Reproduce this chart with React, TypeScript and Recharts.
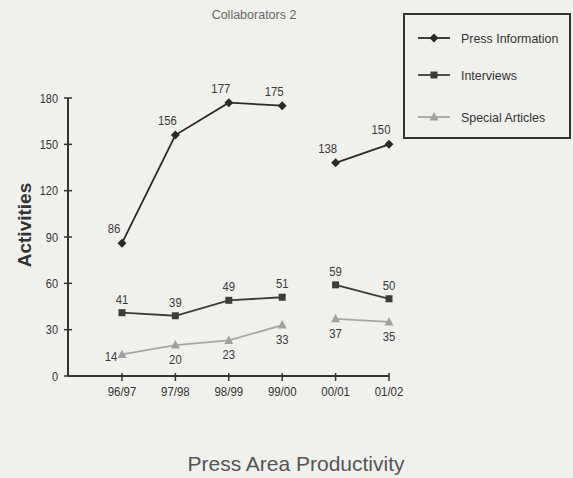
import React from 'react';
import { LineChart, Line, XAxis, YAxis, LabelList } from 'recharts';

const categories = ['96/97', '97/98', '98/99', '99/00', '00/01', '01/02'];
const pressInformation = [86, 156, 177, 175, 138, 150];
const interviews = [41, 39, 49, 51, 59, 50];
const specialArticles = [14, 20, 23, 33, 37, 35];
const yTicks = [0, 30, 60, 90, 120, 150, 180];
// the lines break between 99/00 and 00/01
const firstPeriodEnd = 3;

const FONT = "'Liberation Sans', Arial, sans-serif";
const BG = '#f0f0ed';

const SERIES = [
  { key: 'press', name: 'Press Information', values: pressInformation, color: '#2a2a2a', fill: '#2a2a2a', shape: 'diamond' },
  { key: 'interviews', name: 'Interviews', values: interviews, color: '#3c3c3c', fill: '#3c3c3c', shape: 'square' },
  { key: 'special', name: 'Special Articles', values: specialArticles, color: '#a6a6a6', fill: '#a0a0a0', shape: 'triangle' },
];

const data = categories.map((cat, i) => {
  const row: Record<string, string | number | null> = { cat };
  SERIES.forEach((s) => {
    row[s.key + 'A'] = i <= firstPeriodEnd ? s.values[i] : null;
    row[s.key + 'B'] = i > firstPeriodEnd ? s.values[i] : null;
  });
  return row;
});

// condensed look (the original uses a narrow face)
function NarrowText({ x, y, anchor = 'middle', size = 12.5, fill = '#333', sx = 0.84, children }: any) {
  return (
    <text
      transform={`translate(${x},${y}) scale(${sx},1)`}
      textAnchor={anchor}
      fontFamily={FONT}
      fontSize={size}
      fill={fill}
    >
      {children}
    </text>
  );
}

function Marker({ cx, cy, shape, fill }: { cx: number; cy: number; shape: string; fill: string }) {
  if (cx == null || cy == null || isNaN(cx) || isNaN(cy)) return null;
  if (shape === 'diamond') {
    return <polygon points={`${cx},${cy - 4.5} ${cx + 4.5},${cy} ${cx},${cy + 4.5} ${cx - 4.5},${cy}`} fill={fill} />;
  }
  if (shape === 'square') {
    return <rect x={cx - 3.5} y={cy - 3.5} width={7} height={7} fill={fill} />;
  }
  return <polygon points={`${cx},${cy - 5} ${cx + 4.5},${cy + 3.5} ${cx - 4.5},${cy + 3.5}`} fill={fill} />;
}

// label offsets relative to each point
function labelOffset(key: string, index: number) {
  if (key === 'press') return { dx: -8, dy: -10 };
  if (key === 'interviews') return { dx: 0, dy: -9 };
  if (index === 0) return { dx: -11, dy: 7 };
  return { dx: 0, dy: 19 };
}

const makeLabel = (key: string) => (props: any) => {
  const { x, y, value, index } = props;
  if (value == null || x == null || y == null) return null;
  const o = labelOffset(key, index);
  return (
    <NarrowText x={x + o.dx} y={y + o.dy} size={13.5} fill="#3a3a3a">
      {value}
    </NarrowText>
  );
};

const YTick = (props: any) => {
  const { x, y, payload } = props;
  return (
    <g>
      <line x1={x + 6} x2={x + 14} y1={y} y2={y} stroke="#333" strokeWidth={1.5} />
      <NarrowText x={x} y={y + 4.5} anchor="end" size={13}>
        {payload.value}
      </NarrowText>
    </g>
  );
};

const XTick = (props: any) => {
  const { x, y, payload } = props;
  return (
    <g>
      <line x1={x} x2={x} y1={y - 13} y2={y - 5} stroke="#333" strokeWidth={1.5} />
      <NarrowText x={x} y={y + 9.5} size={13} sx={0.88}>
        {payload.value}
      </NarrowText>
    </g>
  );
};

function LegendBox() {
  const rows = [23, 60, 102];
  return (
    <div
      style={{
        position: 'absolute',
        left: 403,
        top: 13,
        width: 164,
        height: 122,
        border: '2px solid #333',
        boxSizing: 'content-box',
      }}
    >
      <svg width={164} height={122} style={{ position: 'absolute', left: 0, top: 0 }}>
        {SERIES.map((s, i) => (
          <g key={s.key}>
            <line x1={13} x2={45} y1={rows[i]} y2={rows[i]} stroke={s.color} strokeWidth={1.8} />
            <Marker cx={29} cy={rows[i]} shape={s.shape} fill={s.fill} />
            <NarrowText x={56} y={rows[i] + 4.5} anchor="start" size={13.5} sx={0.92}>
              {s.name}
            </NarrowText>
          </g>
        ))}
      </svg>
    </div>
  );
}

export default function App() {
  return (
    <div style={{ position: 'absolute', left: 0, top: 0, width: 573, height: 478, background: BG, overflow: 'hidden' }}>
      <svg width={573} height={30} style={{ position: 'absolute', left: 0, top: 0 }}>
        <NarrowText x={254} y={19} size={12.5} sx={1} fill="#666">
          Collaborators 2
        </NarrowText>
      </svg>
      <div
        style={{
          position: 'absolute',
          left: 25,
          top: 225,
          transform: 'translate(-50%, -50%) rotate(-90deg)',
          fontFamily: FONT,
          fontWeight: 'bold',
          fontSize: 19,
          color: '#333',
          whiteSpace: 'nowrap',
        }}
      >
        Activities
      </div>
      <div
        style={{
          position: 'absolute',
          left: 0,
          width: 592,
          top: 452,
          textAlign: 'center',
          fontFamily: FONT,
          fontSize: 21,
          color: '#555',
        }}
      >
        Press Area Productivity
      </div>
      <LegendBox />
      <div style={{ position: 'absolute', left: 0, top: 0 }}>
        <LineChart width={573} height={478} data={data} margin={{ top: 98, right: 184, bottom: 72, left: 28 }}>
          <XAxis
            dataKey="cat"
            height={30}
            padding={{ left: 54, right: 0 }}
            axisLine={{ stroke: '#333', strokeWidth: 2 }}
            tickLine={false}
            tickSize={0}
            tickMargin={10}
            tick={<XTick />}
            interval={0}
          />
          <YAxis
            width={40}
            domain={[0, 180]}
            ticks={yTicks}
            axisLine={{ stroke: '#333', strokeWidth: 2 }}
            tickLine={false}
            tickSize={0}
            tickMargin={10}
            tick={<YTick />}
            interval={0}
          />
          {SERIES.flatMap((s) =>
            ['A', 'B'].map((part) => (
              <Line
                key={s.key + part}
                dataKey={s.key + part}
                stroke={s.color}
                strokeWidth={1.8}
                isAnimationActive={false}
                connectNulls={false}
                dot={(p: any) => <Marker key={p.index} cx={p.cx} cy={p.cy} shape={s.shape} fill={s.fill} />}
                activeDot={false}
              >
                <LabelList dataKey={s.key + part} content={makeLabel(s.key)} />
              </Line>
            ))
          )}
        </LineChart>
      </div>
    </div>
  );
}
